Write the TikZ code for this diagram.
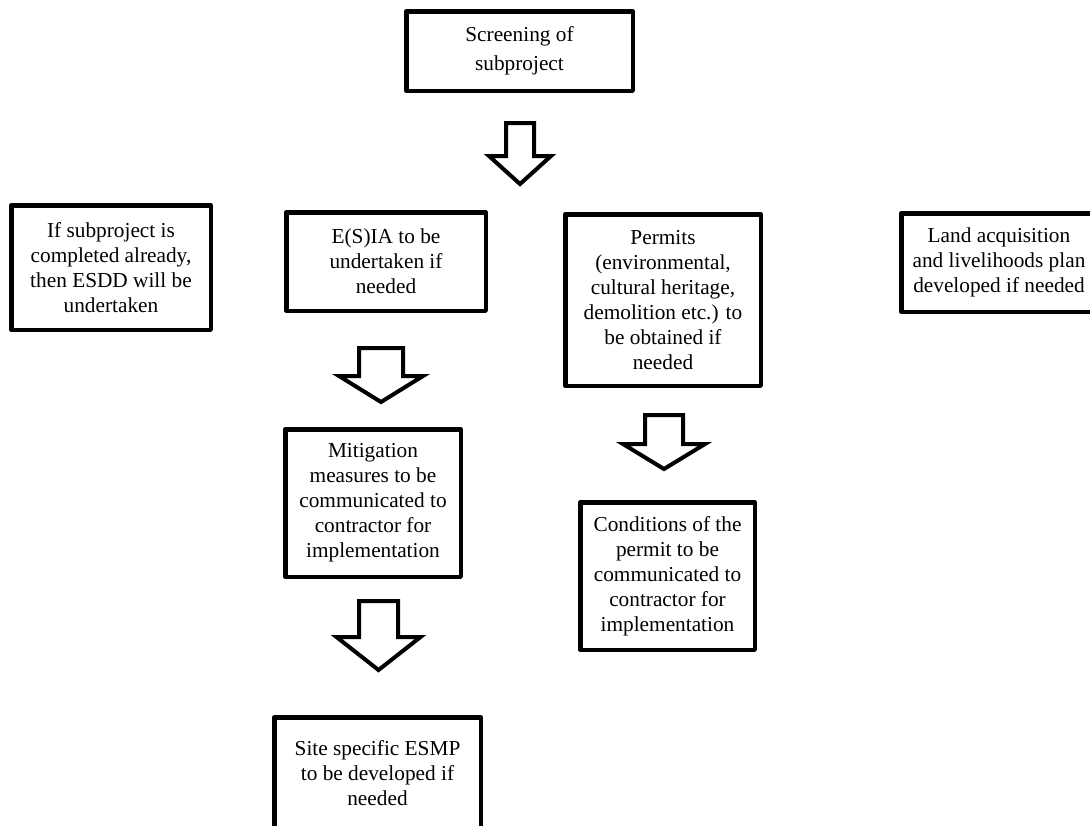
\documentclass[tikz,border=0pt]{standalone}
\usepackage{fontspec}
\setmainfont{Liberation Serif}
\newcommand\blockarr[6]{%
  \draw[blockarrow] (#1-#3,#2) -- (#1+#3,#2) -- (#1+#3,#4) -- (#1+#5,#4) -- (#1,#6) -- (#1-#5,#4) -- (#1-#3,#4) -- cycle;}
\begin{document}
\begin{tikzpicture}[x=1pt,y=-1pt,
  box/.style={draw, line width=4.5pt, line join=round, align=center, inner sep=0pt,
    font=\fontsize{21.3}{25}\selectfont},
  blockarrow/.style={draw, line width=4pt, line join=miter, fill=white}]
\useasboundingbox (0,0) rectangle (1090,825);
\clip (0,0) rectangle (1090,825);
\node[box, minimum width=226.5pt, minimum height=79.5pt, font=\fontsize{21.3}{29}\selectfont] (scr) at (519.5,51) {Screening of\\subproject};
\node[box, minimum width=199.5pt, minimum height=124.5pt] (esdd) at (111,267.5) {If subproject is\\completed already,\\then ESDD will be\\undertaken};
\node[box, minimum width=199.5pt, minimum height=98.5pt] (esia) at (386,261.5) {E(S)IA to be\\undertaken if\\needed};
\node[box, minimum width=195.5pt, minimum height=171.5pt] (perm) at (663,300) {Permits\\(environmental,\\cultural heritage,\\demolition etc.) to\\be obtained if\\needed};
\node[box, minimum width=195.5pt, minimum height=98.5pt] (land) at (999,262.5) {Land acquisition\\and livelihoods plan\\developed if needed};
\node[box, minimum width=175.5pt, minimum height=147.5pt] (mit) at (373,503) {Mitigation\\measures to be\\communicated to\\contractor for\\implementation};
\node[box, minimum width=174.5pt, minimum height=147.5pt] (cond) at (667.5,576) {Conditions of the\\permit to be\\communicated to\\contractor for\\implementation};
\node[box, minimum width=206.5pt, minimum height=111.5pt] (site) at (377.5,773) {Site specific ESMP\\to be developed if\\needed};
\blockarr{520}{123}{14}{156}{31}{184}
\blockarr{381}{348}{22}{376}{42}{402}
\blockarr{378.5}{601}{19.5}{637}{42}{670}
\blockarr{664}{415}{19}{444}{41}{469}
\end{tikzpicture}
\end{document}
